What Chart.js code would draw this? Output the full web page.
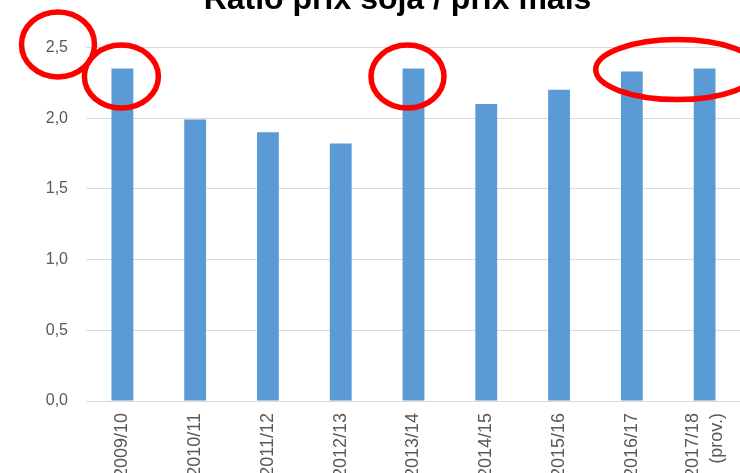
<!DOCTYPE html>
<html>
<head>
<meta charset="utf-8">
<script src="https://cdn.jsdelivr.net/npm/chart.js@4"></script>
<style>
  body { margin: 0; background: #fff; }
  #wrap { position: relative; width: 740px; height: 473px; overflow: hidden; }
  #chart { position: absolute; left: 0; top: -19px; }
</style>
</head>
<body>
<div id="wrap">
  <canvas id="chart" width="792" height="492"></canvas>
</div>
<script>
// Data
const seasons = ['2009/10', '2010/11', '2011/12', '2012/13', '2013/14', '2014/15', '2015/16', '2016/17', ['2017/18', '(prov.)']];
const ratios = [2.35, 1.99, 1.90, 1.82, 2.35, 2.10, 2.20, 2.33, 2.35];
const yMin = 0;
const yMax = 2.5;
const yStep = 0.5;

// Red circles drawn over the chart (anchored on the scales)
const circles = [
  { axisValue: 2.5, dx: -28, dy: -3, rx: 36.5, ry: 32.5 },
  { bars: [0], dx: -1, dy: 8, rx: 37, ry: 31.5 },
  { bars: [4], dx: -6, dy: 8, rx: 36.5, ry: 31.5 },
  { bars: [7, 8], dx: 9, dy: 1, rx: 81.5, ry: 30 }
];

const circlePlugin = {
  id: 'circles',
  afterDatasetsDraw(chart) {
    const ctx = chart.ctx;
    const x = chart.scales.x;
    const y = chart.scales.y;
    ctx.save();
    ctx.strokeStyle = '#ff0000';
    ctx.lineWidth = 5.5;
    circles.forEach(c => {
      let cx, cy;
      if (c.bars) {
        const xs = c.bars.map(i => x.getPixelForValue(i));
        const ys = c.bars.map(i => y.getPixelForValue(ratios[i]));
        cx = (xs[0] + xs[xs.length - 1]) / 2;
        cy = Math.min(...ys);
      } else {
        cx = chart.chartArea.left;
        cy = y.getPixelForValue(c.axisValue);
      }
      ctx.beginPath();
      ctx.ellipse(cx + c.dx, cy + c.dy, c.rx, c.ry, 0, 0, Math.PI * 2);
      ctx.stroke();
    });
    ctx.restore();
  }
};

// center two-line rotated labels on their bar, nudge the title
const tweaks = {
  id: 'tweaks',
  afterLayout(chart) {
    if (chart.titleBlock) chart.titleBlock.left = 54;
  },
  beforeDraw(chart) {
    const items = chart.scales.x.getLabelItems();
    items.forEach(item => {
      if (Array.isArray(item.label) && !item.shifted) {
        const lh = item.font.lineHeight;
        item.options.translation[0] -= (item.label.length - 1) * lh / 2;
        item.shifted = true;
      }
    });
  }
};

const ctx = document.getElementById('chart').getContext('2d');
new Chart(ctx, {
  type: 'bar',
  data: {
    labels: seasons,
    datasets: [{
      data: ratios,
      backgroundColor: '#5b9bd5',
      categoryPercentage: 1,
      barPercentage: 0.3
    }]
  },
  options: {
    responsive: false,
    animation: false,
    layout: { padding: { left: 0, right: 51, top: 0, bottom: 0 } },
    plugins: {
      legend: { display: false },
      tooltip: { enabled: false },
      title: {
        display: true,
        text: 'Ratio prix soja / prix maïs',
        color: '#000',
        font: { family: 'Liberation Sans', size: 32, weight: 'bold' },
        padding: { top: 0, bottom: 28 }
      }
    },
    scales: {
      x: {
        grid: { display: false, drawTicks: false },
        border: { display: false },
        ticks: {
          autoSkip: false,
          minRotation: 90,
          maxRotation: 90,
          padding: 12,
          color: '#595959',
          font: { family: 'Liberation Sans', size: 18, lineHeight: 1.333 }
        },
        afterFit: s => { s.height = 72; }
      },
      y: {
        min: yMin,
        max: yMax,
        grid: { color: '#d9d9d9', drawTicks: false },
        border: { display: false },
        ticks: {
          stepSize: yStep,
          padding: 18,
          color: '#595959',
          font: { family: 'Liberation Sans', size: 16 },
          callback: v => v.toFixed(1).replace('.', ',')
        },
        afterFit: s => { s.width = 86; }
      }
    }
  },
  plugins: [circlePlugin, tweaks]
});
</script>
</body>
</html>
